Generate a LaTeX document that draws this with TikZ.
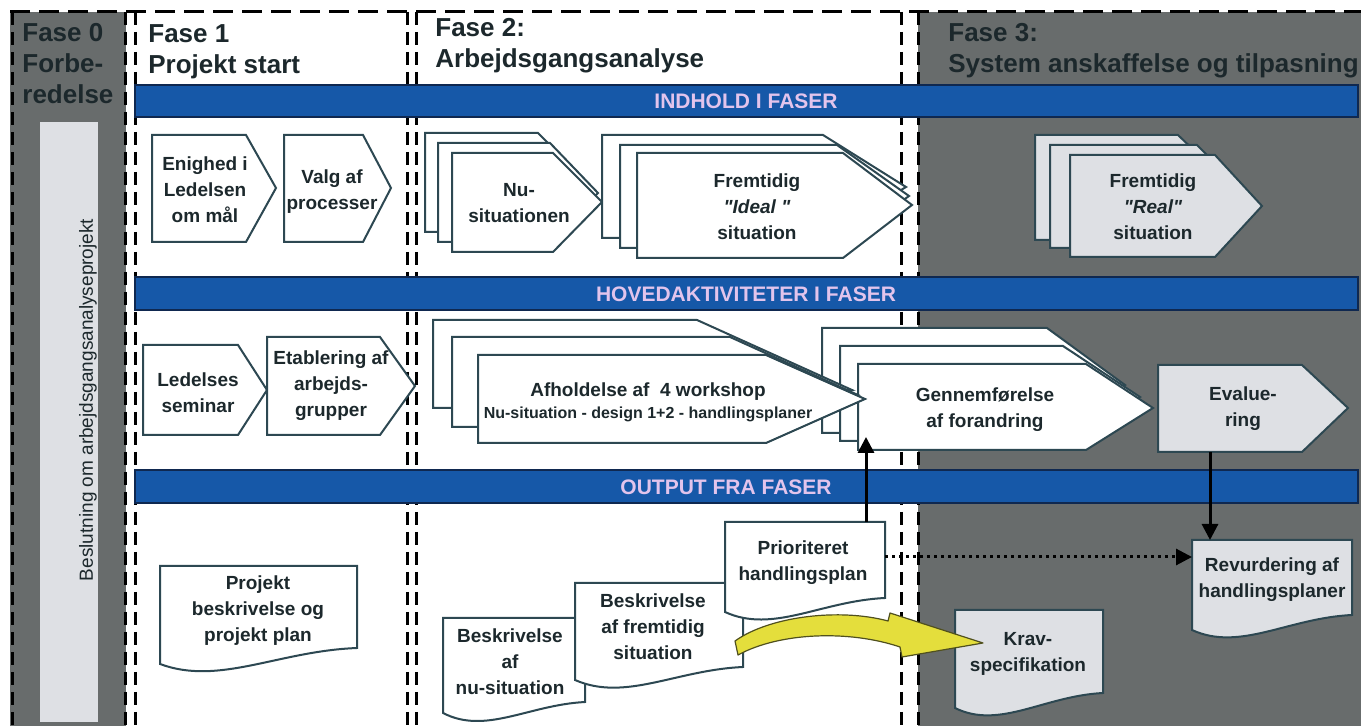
\documentclass[tikz,border=0pt]{standalone}
\usepackage{fontspec}
\setmainfont{Liberation Sans}
\usetikzlibrary{arrows.meta}
\definecolor{bgray}{RGB}{104,108,108}
\definecolor{lgray}{RGB}{222,224,228}
\definecolor{barblue}{RGB}{22,88,168}
\definecolor{barline}{RGB}{15,40,80}
\definecolor{bartxt}{RGB}{226,196,236}
\definecolor{edgec}{RGB}{45,72,82}
\definecolor{ink}{RGB}{28,40,44}
\definecolor{yel}{RGB}{228,222,60}
\definecolor{yeledge}{RGB}{80,80,30}
\newcommand\pentshape[7]{\draw[#1] (#2,#3) -- (#5,#3) -- (#6,#7) -- (#5,#4) -- (#2,#4) -- cycle;}
\newcommand\docshape[6]{\draw[#1] (#2,#3) -- (#4,#3) -- (#4,#5) .. controls ({#4-0.4*(#4-#2)},{#5+3}) and ({#2+0.3*(#4-#2)},{#6+22}) .. (#2,#6) -- cycle;}
\begin{document}
\begin{tikzpicture}[x=0.5pt,y=-0.5pt,
  boxs/.style={draw=edgec, line width=1pt, fill=white, line join=miter},
  gboxs/.style={boxs, fill=lgray},
  btxt/.style={font=\bfseries\fontsize{9.5}{13}\selectfont, text=ink, align=center, inner sep=0pt},
  ttl/.style={font=\bfseries\fontsize{13}{15.5}\selectfont, text=ink, align=left, inner sep=0pt, anchor=base west},
  barstyle/.style={fill=barblue, draw=barline, line width=0.6pt},
  bartext/.style={font=\bfseries\fontsize{10.5}{12}\selectfont, text=bartxt, inner sep=0pt},
  vdash/.style={black, line width=1.5pt, dash pattern=on 6.5pt off 3.5pt},
  hdash/.style={black, line width=1.5pt, dash pattern=on 10pt off 4.5pt},
  conn/.style={black, line width=1.5pt, -{Triangle[length=8pt,width=8pt]}},
  dotconn/.style={conn, dotted}]
\useasboundingbox (0,0) rectangle (1361,726);
\clip (0,0) rectangle (1361,726);
\fill[white] (0,0) rectangle (1361,726);
% phase backgrounds
\fill[bgray] (10,12) rectangle (126,726);
\fill[bgray] (918,12) rectangle (1361,726);
\fill[lgray] (40,122) rectangle (98,722);
% dashed borders
\draw[hdash] (10,12) -- (1361,12);
\foreach \xx in {12,125,135,407,416,901,918} {\draw[vdash] (\xx,12) -- (\xx,726);}
% titles (anchored at the baseline of their last line)
\node[ttl] (t0) at (22,104) {Fase 0\\Forbe-\\redelse};
\node[ttl] (t1) at (148,74) {Fase 1\\Projekt start};
\node[ttl] (t2) at (435,68) {Fase 2:\\Arbejdsgangsanalyse};
\node[ttl] (t3) at (948,73) {Fase 3:\\System anskaffelse og tilpasning};
\node[rotate=90, font=\fontsize{9.5}{11}\selectfont, text=ink, inner sep=0pt] (besl) at (88,400) {Beslutning om arbejdsgangsanalyseprojekt};
% blue bars
\draw[barstyle] (135,85) rectangle (1358,117);
\draw[barstyle] (135,277) rectangle (1358,310);
\draw[barstyle] (135,470) rectangle (1358,503);
\node[bartext] (bar1) at (746,101) {INDHOLD I FASER};
\node[bartext] (bar2) at (746,294) {HOVEDAKTIVITETER I FASER};
\node[bartext] (bar3) at (726,487) {OUTPUT FRA FASER};
% row 1
\pentshape{boxs}{152}{135}{242}{246}{276}{188}
\node[btxt] (enighed) at (205,190) {Enighed i\\Ledelsen\\om mål};
\pentshape{boxs}{284}{135}{242}{363}{391}{188}
\node[btxt] (valg) at (332,192) {Valg af\\processer};
\pentshape{boxs}{425}{133}{232}{538}{588}{183}
\pentshape{boxs}{438}{143}{242}{550}{598}{193}
\pentshape{boxs}{452}{153}{252}{553}{602}{202}
\node[btxt] (nusit) at (519,203) {Nu-\\situationen};
\pentshape{boxs}{602}{135}{238}{823}{906}{187}
\pentshape{boxs}{620}{145}{248}{837}{909}{196}
\pentshape{boxs}{637}{153}{258}{843}{912}{205}
\node[btxt] (ideal) at (757,207) {Fremtidig\\{\itshape\textquotedbl Ideal~\textquotedbl}\\situation};
\pentshape{gboxs}{1035}{135}{240}{1178}{1232}{187}
\pentshape{gboxs}{1050}{145}{248}{1197}{1248}{196}
\pentshape{gboxs}{1070}{155}{257}{1215}{1262}{206}
\node[btxt] (real) at (1153,207) {Fremtidig\\{\itshape\textquotedbl Real\textquotedbl}\\situation};
% row 2
\pentshape{boxs}{143}{345}{435}{238}{267}{390}
\node[btxt] (ledelses) at (198,393) {Ledelses\\seminar};
\pentshape{boxs}{267}{337}{435}{380}{415}{386}
\node[btxt] (etabl) at (331,386) {Etablering af\\arbejds-\\grupper};
\pentshape{boxs}{822}{328}{433}{1047}{1125}{385}
\pentshape{boxs}{840}{346}{441}{1063}{1140}{397}
\pentshape{boxs}{858}{364}{450}{1086}{1153}{408}
\node[btxt] (gennem) at (985,410) {Gennemførelse\\af forandring};
\pentshape{boxs}{433}{320}{408}{697}{852}{390}
\pentshape{boxs}{452}{337}{427}{730}{858}{395}
\pentshape{boxs}{478}{355}{443}{766}{865}{399}
\node[btxt] (afhold) at (648,402) {Afholdelse af~~4 workshop\\[-2pt]{\fontsize{8}{10}\selectfont Nu-situation - design 1+2 - handlingsplaner}};
\pentshape{gboxs}{1158}{365}{452}{1302}{1348}{408}
\node[btxt] (evalu) at (1243,409) {Evalue-\\ring};
% row 3 documents
\docshape{boxs}{160}{566}{357}{648}{664}
\node[btxt] (pbp) at (258,611) {Projekt\\beskrivelse og\\projekt plan};
\docshape{boxs}{443}{618}{585}{702}{713}
\node[btxt] (nudoc) at (510,662) {Beskrivelse\\af\\nu-situation};
\docshape{boxs}{575}{583}{743}{667}{680}
\node[btxt] (fremdoc) at (653,627) {Beskrivelse\\af fremtidig\\situation};
\docshape{boxs}{725}{522}{885}{598}{612}
\node[btxt] (prio) at (803,563) {Prioriteret\\handlingsplan};
\docshape{gboxs}{955}{610}{1103}{693}{708}
\node[btxt] (krav) at (1028,654) {Krav-\\specifikation};
\docshape{gboxs}{1192}{540}{1352}{615}{630}
\node[btxt] (revurd) at (1272,580) {Revurdering af\\handlingsplaner};
% connector end points
\coordinate (prioTop) at (866,522);
\coordinate (genBottom) at (866,437);
\coordinate (evalBottom) at (1210,452);
\coordinate (revTop) at (1210,540);
\coordinate (prioRight) at (885,557);
\coordinate (revLeft) at (1192,557);
\draw[conn] (prioTop) -- (genBottom);
\draw[conn] (evalBottom) -- (revTop);
\draw[dotconn] (prioRight) -- (revLeft);
% yellow curved arrow
\draw[fill=yel, draw=yeledge, line width=0.6pt, line join=round]
  (735,641) .. controls (770,616) and (840,608) .. (888,621)
  -- (890,613) -- (983,643) -- (902,657) -- (900,647)
  .. controls (850,630) and (780,632) .. (738,655) -- cycle;
\end{tikzpicture}
\end{document}
